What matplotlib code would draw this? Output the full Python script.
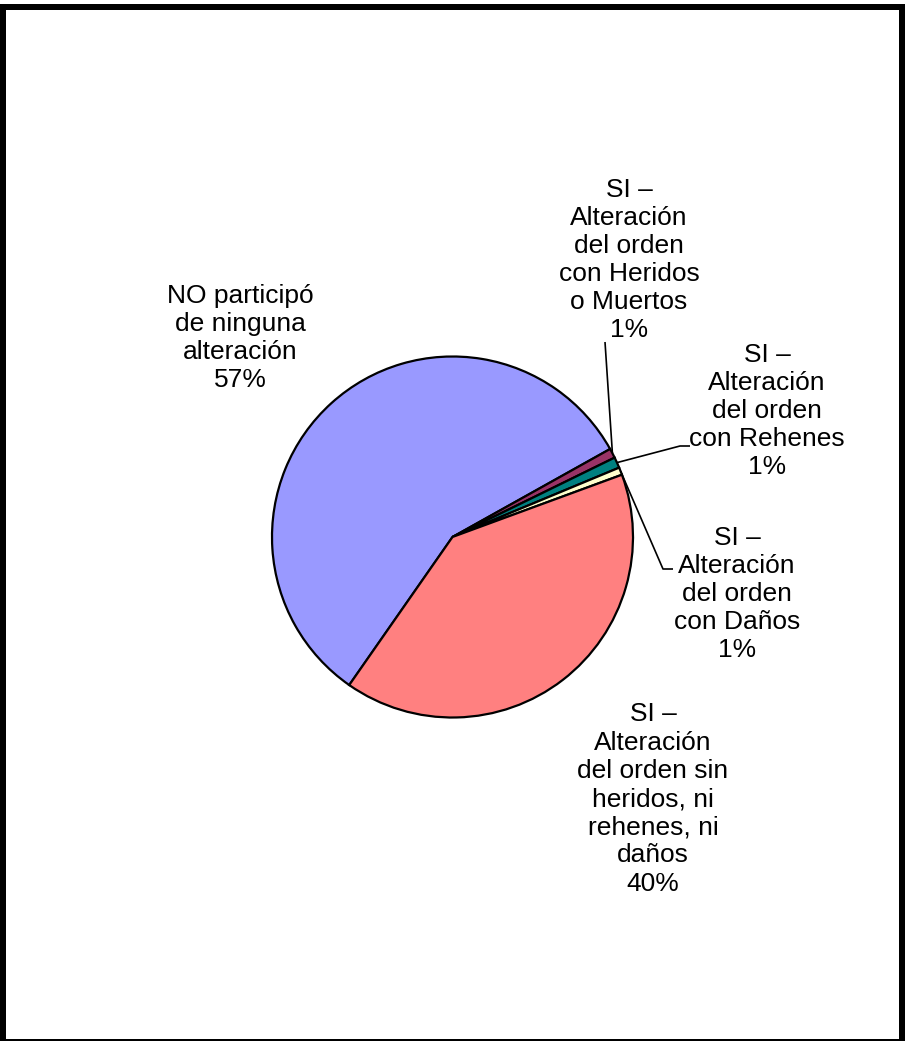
import numpy as np
import matplotlib
matplotlib.use("Agg")
import matplotlib.pyplot as plt
from matplotlib.patches import Rectangle

# ---- data ----
categories = [
    "NO participó\nde ninguna\nalteración",
    "SI –\nAlteración\ndel orden\ncon Heridos\no Muertos",
    "SI –\nAlteración\ndel orden\ncon Rehenes",
    "SI –\nAlteración\ndel orden\ncon Daños",
    "SI –\nAlteración\ndel orden sin\nheridos, ni\nrehenes, ni\ndaños",
]
values = [57.2, 0.86, 0.97, 0.67, 40.3]
colors = ["#9999FF", "#993366", "#008080", "#FFFFCC", "#FF8080"]

W, H = 906, 1041
plt.rcParams['font.family'] = ['Liberation Sans', 'DejaVu Sans']

fig = plt.figure(figsize=(W / 100, H / 100), dpi=100)
ax = fig.add_axes([0, 0, 1, 1])

def py(y):
    return H - y

cx, cy, r = 452.5, py(537), 180.5
wedges, _ = ax.pie(values, colors=colors, startangle=235.1, counterclock=False,
                   center=(cx, cy), radius=r,
                   wedgeprops=dict(edgecolor="black", linewidth=1.6, zorder=3))
ax.set_xlim(0, W)
ax.set_ylim(0, H)
ax.set_aspect("equal")
ax.axis("off")

# label layout (pixel positions of text block centers)
label_pos = [(240, 338), (629, 260), (767, 411), (737, 594), (653, 799)]
# leader elbows for small slices: (elbow point, end point)
leaders = {
    1: [(605, 342)],
    2: [(680, 446), (690, 446)],
    3: [(663, 569), (673, 569)],
}

for i, (lab, v) in enumerate(zip(categories, values)):
    txt = f"{lab}\n{round(v)}%"
    x, y = label_pos[i]
    ax.text(x, py(y), txt, ha="center", va="center", fontsize=19,
            linespacing=1.22, zorder=5)
    if i in leaders:
        w = wedges[i]
        mid = np.deg2rad((w.theta1 + w.theta2) / 2)
        pts = [(cx + r * np.cos(mid), cy + r * np.sin(mid))]
        pts += [(px, py(pyy)) for px, pyy in leaders[i]]
        xs, ys = zip(*pts)
        ax.plot(xs, ys, color="black", linewidth=1.2, zorder=2,
                solid_capstyle="butt")

# outer frame
frame = Rectangle((3, py(1042)), 902 - 3, 1042 - 7, fill=False,
                  edgecolor="black", linewidth=6 * 0.72, zorder=10,
                  clip_on=False)
ax.add_patch(frame)

fig.savefig("out.png", dpi=100)
